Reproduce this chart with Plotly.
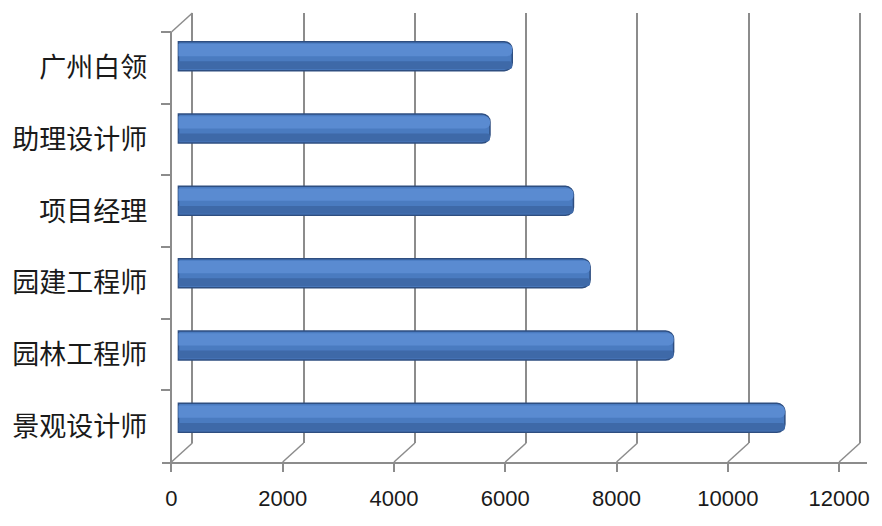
import plotly.graph_objects as go

# ---- data ----
categories = ["广州白领", "助理设计师", "项目经理", "园建工程师", "园林工程师", "景观设计师"]
salaries = [6000, 5600, 7100, 7400, 8900, 10900]
tick_values = [0, 2000, 4000, 6000, 8000, 10000, 12000]
tick_labels = ["0", "2000", "4000", "6000", "8000", "10000", "12000"]

PAGE_MARGIN = 8  # default body margin of the html page
W, H = 882 - 2 * PAGE_MARGIN, 526 - 2 * PAGE_MARGIN
S = 670 / 12000.0  # pixels per unit along the value axis
DEPTH_X, DEPTH_Y = 21, 19  # 3D depth offset of the back wall (pixels)
GRID = "#8c8c8c"


def xdom(zero_px, lo, hi):
    zero_px -= PAGE_MARGIN
    return [(zero_px + lo * S) / W, min(1.0, (zero_px + hi * S) / W)]


def ydom(top_px, bottom_px):
    return [1 - (bottom_px - PAGE_MARGIN) / H, 1 - (top_px - PAGE_MARGIN) / H]


def ypaper(p):
    return 1 - (p - PAGE_MARGIN) / H


FRONT_ZERO = 172
FRONT_TOP, FRONT_BOTTOM = 32, 462
BACK_ZERO = FRONT_ZERO + DEPTH_X
BAR_ZERO = 179

fig = go.Figure()

# back wall (gridlines only) -> x / y
fig.add_trace(go.Scatter(x=salaries, y=categories, mode="markers",
                         marker=dict(opacity=0), hoverinfo="skip",
                         showlegend=False, xaxis="x", yaxis="y"))
# front axes (labels) -> x2 / y2
fig.add_trace(go.Scatter(x=salaries, y=categories, mode="markers",
                         marker=dict(opacity=0), hoverinfo="skip",
                         showlegend=False, xaxis="x2", yaxis="y2"))
# cylinders -> x3 / y3
fig.add_trace(go.Bar(x=salaries, y=categories, orientation="h", width=0.40,
                     marker=dict(color="#4a7bc0", line=dict(color="#2e4e80", width=1.5),
                                 cornerradius=8),
                     showlegend=False, xaxis="x3", yaxis="y3"))
fig.add_trace(go.Bar(x=salaries, y=categories, orientation="h", width=0.17, offset=-0.17,
                     marker=dict(color="#5a8bd1", line=dict(width=0), cornerradius=5),
                     showlegend=False, hoverinfo="skip", xaxis="x3", yaxis="y3"))
fig.add_trace(go.Bar(x=salaries, y=categories, orientation="h", width=0.11, offset=0.07,
                     marker=dict(color="#3e69a8", line=dict(width=0), cornerradius=4),
                     showlegend=False, hoverinfo="skip", xaxis="x3", yaxis="y3"))

shapes = []
for v in tick_values:
    shapes.append(dict(type="line", xref="x2", yref="paper",
                       x0=v + DEPTH_X / S, y0=ypaper(FRONT_BOTTOM - DEPTH_Y),
                       x1=v, y1=ypaper(FRONT_BOTTOM),
                       line=dict(color=GRID, width=1.5), layer="below"))
shapes.append(dict(type="line", xref="x2", yref="paper",
                   x0=0, y0=ypaper(FRONT_TOP),
                   x1=DEPTH_X / S, y1=ypaper(FRONT_TOP - DEPTH_Y),
                   line=dict(color=GRID, width=1.5), layer="below"))

front_hi = (W + PAGE_MARGIN - 4 - FRONT_ZERO) / S  # front axis runs nearly to the right edge
bar_hi = (W + PAGE_MARGIN - BAR_ZERO) / S

fig.update_layout(
    width=W, height=H,
    margin=dict(l=0, r=0, t=0, b=0),
    paper_bgcolor="white", plot_bgcolor="rgba(0,0,0,0)",
    barmode="overlay",
    shapes=shapes,
    font=dict(family="Noto Sans CJK SC, Liberation Sans, sans-serif", color="#1a1a1a"),
    xaxis=dict(domain=xdom(BACK_ZERO, -100, 12100), range=[-100, 12100], anchor="y",
               tickvals=tick_values, showticklabels=False, ticks="",
               showgrid=True, gridcolor=GRID, gridwidth=1.5,
               zeroline=False, showline=False),
    yaxis=dict(domain=ydom(FRONT_TOP - DEPTH_Y, FRONT_BOTTOM - DEPTH_Y), anchor="x",
               type="category", categoryorder="array", categoryarray=categories,
               range=[5.5, -0.5], visible=False),
    xaxis2=dict(domain=xdom(FRONT_ZERO, -161, front_hi), range=[-161, front_hi], anchor="y2",
                tickvals=tick_values, ticktext=tick_labels,
                ticks="outside", ticklen=8, tickcolor=GRID, tickwidth=1.5,
                showline=True, linecolor=GRID, linewidth=1.5,
                showgrid=False, zeroline=False,
                ticklabeloverflow="allow",
                tickfont=dict(size=22, family="Liberation Sans, sans-serif",
                              color="#1a1a1a"),
                ticklabelstandoff=8),
    yaxis2=dict(domain=ydom(FRONT_TOP, FRONT_BOTTOM), anchor="free",
                position=(FRONT_ZERO - PAGE_MARGIN) / W,
                type="category", categoryorder="array", categoryarray=categories,
                range=[5.5, -0.5],
                ticks="outside", ticklen=10, tickcolor=GRID, tickwidth=1.5,
                tickson="boundaries",
                showline=True, linecolor=GRID, linewidth=1.5,
                showgrid=False, zeroline=False,
                tickfont=dict(size=27, family="Noto Sans CJK SC, sans-serif",
                              color="#1a1a1a"),
                ticklabelstandoff=18),
    xaxis3=dict(domain=xdom(BAR_ZERO, -100, bar_hi), range=[-100, bar_hi], anchor="y3",
                visible=False),
    yaxis3=dict(domain=ydom(20, 454), anchor="x3",
                type="category", categoryorder="array", categoryarray=categories,
                range=[5.5, -0.5], visible=False),
)

fig.write_html("out.html")
